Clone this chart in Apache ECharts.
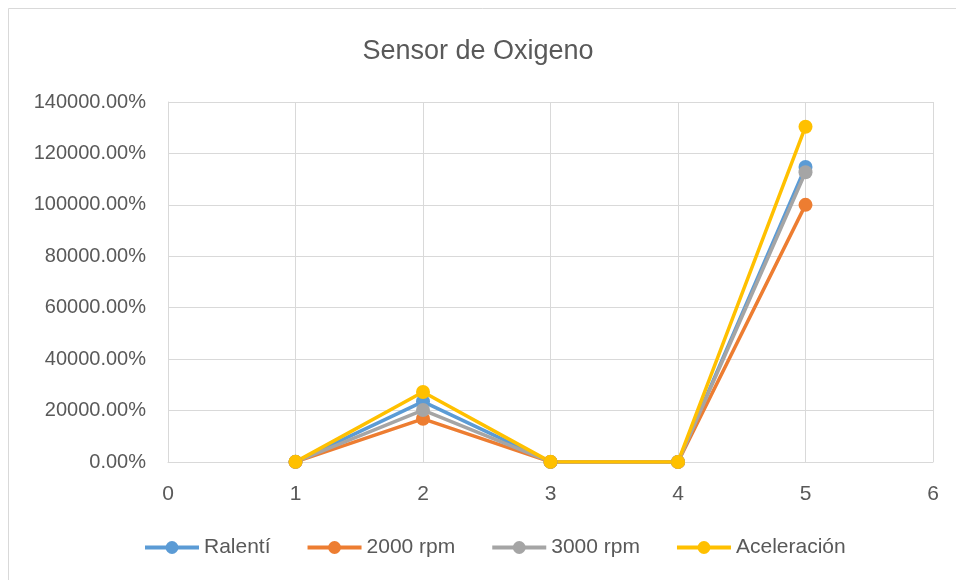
<!DOCTYPE html>
<html><head><meta charset="utf-8">
<script src="https://cdn.jsdelivr.net/npm/echarts@6/dist/echarts.min.js"></script>
<style>html,body{margin:0;padding:0;background:#fff}#c{width:956px;height:580px}</style>
</head><body><div id="c"></div>
<script>
var xValues = [1, 2, 3, 4, 5];
var seriesNames = ['Ralentí', '2000 rpm', '3000 rpm', 'Aceleración'];
var ralenti = [0.5, 235, 0.4, 0.3, 1147];
var rpm2000 = [0.4, 168, 0.3, 0.2, 1000];
var rpm3000 = [0.5, 202, 0.4, 0.3, 1127];
var aceleracion = [0.6, 272, 0.5, 0.3, 1304];
var colors = ['#5B9BD5', '#ED7D31', '#A5A5A5', '#FFC000'];
var font = 'Liberation Sans';

function pairs(arr){ return xValues.map(function(x,i){ return [x, arr[i]]; }); }
var allData = [ralenti, rpm2000, rpm3000, aceleracion];

var chart = echarts.init(document.getElementById('c'), null, {renderer:'canvas'});
chart.setOption({
  animation:false,
  backgroundColor:'#fff',
  color: colors,
  graphic:[{type:'rect', shape:{x:8.5,y:8.5,width:960,height:600}, style:{fill:'none', stroke:'#d9d9d9', lineWidth:1}, silent:true}],
  title:{text:'Sensor de Oxigeno', left:'center', top:33, textStyle:{fontFamily:font, fontSize:27, fontWeight:'normal', color:'#595959'}},
  legend:{bottom:17, left:138, itemWidth:54, itemHeight:16, itemGap:35,
    textStyle:{fontFamily:font, fontSize:21, color:'#595959'},
    lineStyle:{width:4},
    data: seriesNames},
  grid:{left:168, right:23, top:102, bottom:118},
  xAxis:{type:'value', min:0, max:6, interval:1,
    axisLine:{show:true, lineStyle:{color:'#d9d9d9', width:1}},
    axisTick:{show:false},
    splitLine:{show:true, lineStyle:{color:'#d9d9d9', width:1}},
    axisLabel:{fontFamily:font, fontSize:21, color:'#595959', margin:22}},
  yAxis:{type:'value', min:0, max:1400, interval:200,
    axisLine:{show:true, lineStyle:{color:'#d9d9d9', width:1}},
    axisTick:{show:false},
    splitLine:{show:true, lineStyle:{color:'#d9d9d9', width:1}},
    axisLabel:{fontFamily:font, fontSize:20, color:'#595959', margin:22,
      formatter:function(v){ return (v*100).toFixed(2)+'%'; }}},
  series: seriesNames.map(function(n,i){
    return {name:n, type:'line', data:pairs(allData[i]), symbol:'circle', symbolSize:14,
      lineStyle:{width:3.5, color:colors[i]}, itemStyle:{color:colors[i]}};
  })
});
</script></body></html>
